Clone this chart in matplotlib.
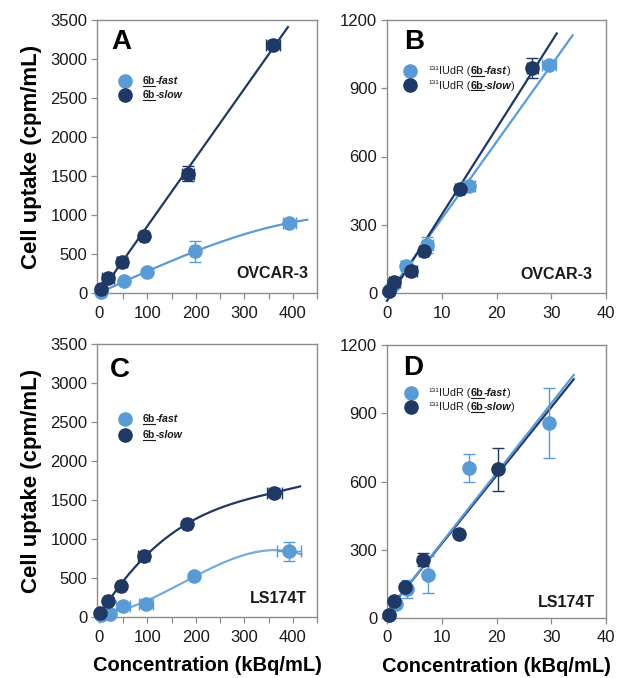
import numpy as np
import matplotlib
matplotlib.use('Agg')
import matplotlib.pyplot as plt
from matplotlib.ticker import MultipleLocator

plt.rcParams['font.family'] = ['Liberation Sans', 'DejaVu Sans']

LIGHT = '#5B9BD5'
DARK = '#1F3864'
SPINE = '#8C8C8C'

# Panel A - OVCAR-3, 6b
a_fast_x = [5, 51, 99, 198, 393]
a_fast_y = [10, 158, 265, 535, 899]
a_fast_yerr = [10, 20, 15, 135, 30]
a_fast_xerr = [2, 5, 5, 8, 14]
a_slow_x = [4, 19, 48, 93, 184, 359]
a_slow_y = [51, 188, 402, 736, 1528, 3185]
a_slow_yerr = [30, 30, 60, 40, 95, 60]
a_slow_xerr = [4, 12, 10, 8, 12, 15]

# Panel B - OVCAR-3, 131IUdR
b_fast_x = [0.3, 1.1, 3.5, 7.35, 14.9, 29.6]
b_fast_y = [10, 37, 119, 213, 470, 1003]
b_fast_yerr = [10, 15, 20, 35, 20, 15]
b_fast_xerr = [0.3, 0.6, 1.0, 1.0, 1.2, 1.2]
b_slow_x = [0.3, 1.35, 4.4, 6.7, 13.3, 26.5]
b_slow_y = [10, 47, 98, 185, 455, 990]
b_slow_yerr = [10, 15, 20, 15, 10, 45]
b_slow_xerr = [0.3, 1.0, 1.0, 0.8, 0.8, 1.0]

# Panel C - LS174T, 6b
c_fast_x = [5, 22, 50, 97, 196, 392]
c_fast_y = [30, 43, 141, 171, 522, 843]
c_fast_yerr = [15, 15, 30, 60, 20, 120]
c_fast_xerr = [3, 6, 15, 15, 5, 25]
c_slow_x = [3, 19, 46, 92, 182, 362]
c_slow_y = [51, 201, 394, 783, 1190, 1596]
c_slow_yerr = [30, 25, 30, 50, 20, 55]
c_slow_xerr = [4, 8, 8, 12, 8, 15]

# Panel D - LS174T, 131IUdR
d_fast_x = [0.37, 1.6, 3.66, 7.4, 14.9, 29.6]
d_fast_y = [15, 60, 129, 191, 660, 858]
d_fast_yerr = [8, 10, 40, 80, 62, 155]
d_slow_x = [0.37, 1.3, 3.2, 6.6, 13.2, 20.2]
d_slow_y = [15, 73, 138, 257, 370, 654]
d_slow_yerr = [8, 10, 10, 28, 10, 95]

W, H = 617, 678
fig = plt.figure(figsize=(W / 100, H / 100), dpi=100)


def make_ax(left, top, width=220, height=273):
    return fig.add_axes([left / W, (H - top - height) / H, width / W, height / H])


axA = make_ax(97, 20)
axB = make_ax(387, 20, 219)
axC = make_ax(97, 344)
axD = make_ax(387, 345, 219)


def style(ax, xlim, ylim, xmaj, xmin, ymaj):
    ax.set_xlim(*xlim)
    ax.set_ylim(*ylim)
    ax.xaxis.set_major_locator(MultipleLocator(xmaj))
    ax.xaxis.set_minor_locator(MultipleLocator(xmin))
    ax.yaxis.set_major_locator(MultipleLocator(ymaj))
    for s in ax.spines.values():
        s.set_color(SPINE)
        s.set_linewidth(1.0)
    ax.tick_params(which='both', direction='out', length=4, width=0.9,
                   color=SPINE, labelsize=12, labelcolor='#1a1a1a', pad=3)
    ax.tick_params(axis='x', pad=5)


def series(ax, x, y, yerr, xerr, color):
    ax.errorbar(x, y, yerr=yerr, xerr=xerr, fmt='o', color=color, ms=9.5,
                mec=color, elinewidth=1.0, capsize=4.5, capthick=1.0,
                zorder=4, clip_on=False)


def fit(ax, x, y, deg, x_end, color, lw=1.6):
    p = np.polyfit(x, y, deg)
    xs = np.linspace(0, x_end, 200)
    ax.plot(xs, np.polyval(p, xs), color=color, lw=lw, zorder=3, clip_on=False)


renderer = fig.canvas.get_renderer()


def rich_text(ax, x, y, pieces, size):
    cur = x
    base = ax.transAxes.transform((0, y))[1]
    for s, weight, style_, underline, scale, rise in pieces:
        yy = ax.transAxes.inverted().transform((0, base + rise * size * 100 / 72))[1]
        t = ax.text(cur, yy, s, transform=ax.transAxes, va='baseline', ha='left',
                    fontsize=size * scale, fontweight=weight, fontstyle=style_,
                    color='#1a1a1a')
        bb = t.get_window_extent(renderer)
        if underline:
            uy = base - 1.6
            (ux0, uy0), (ux1, _) = ax.transAxes.inverted().transform([(bb.x0, uy), (bb.x1, uy)])
            ax.plot([ux0, ux1], [uy0, uy0], color='#1a1a1a', lw=0.8,
                    transform=ax.transAxes, clip_on=False)
        cur = ax.transAxes.inverted().transform((bb.x1, 0))[0]


def legend(ax, mx, tx, ys, labels, size):
    for (yy, color), lab in zip(ys, labels):
        ax.plot([mx], [yy], 'o', color=color, ms=9.5, transform=ax.transAxes,
                clip_on=False)
        rich_text(ax, tx, yy - 0.012, lab, size)


def lab_6b(kind):
    return [('6b', 'bold', 'normal', True, 1.0, 0),
            ('-' + kind, 'bold', 'italic', False, 1.0, 0)]


def lab_iudr(kind):
    return [('131', 'normal', 'normal', False, 0.6, 0.42),
            ('IUdR (', 'normal', 'normal', False, 1.0, 0),
            ('6b', 'bold', 'normal', True, 1.0, 0),
            ('-' + kind, 'bold', 'italic', False, 1.0, 0),
            (')', 'normal', 'normal', False, 1.0, 0)]


# ---- Panel A
style(axA, (-4, 450), (0, 3500), 100, 50, 500)
series(axA, a_fast_x, a_fast_y, a_fast_yerr, a_fast_xerr, LIGHT)
series(axA, a_slow_x, a_slow_y, a_slow_yerr, a_slow_xerr, DARK)
fit(axA, a_fast_x, a_fast_y, 3, 430, LIGHT)
fit(axA, a_slow_x, a_slow_y, 1, 390, DARK)
legend(axA, 0.127, 0.209, [(0.777, LIGHT), (0.725, DARK)],
       [lab_6b('fast'), lab_6b('slow')], 7.6)

# ---- Panel B
style(axB, (0, 40), (0, 1200), 10, 10, 300)
series(axB, b_fast_x, b_fast_y, b_fast_yerr, b_fast_xerr, LIGHT)
series(axB, b_slow_x, b_slow_y, b_slow_yerr, b_slow_xerr, DARK)
fit(axB, b_fast_x, b_fast_y, 1, 33.9, LIGHT)
fit(axB, b_slow_x, b_slow_y, 1, 31.0, DARK)
legend(axB, 0.105, 0.19, [(0.8125, LIGHT), (0.761, DARK)],
       [lab_iudr('fast'), lab_iudr('slow')], 7.8)

# ---- Panel C
style(axC, (-4, 450), (0, 3500), 100, 50, 500)
series(axC, c_fast_x, c_fast_y, c_fast_yerr, c_fast_xerr, LIGHT)
series(axC, c_slow_x, c_slow_y, c_slow_yerr, c_slow_xerr, DARK)
fit(axC, c_fast_x, c_fast_y, 3, 418, '#74ABE0')
fit(axC, c_slow_x, c_slow_y, 3, 415, DARK)
legend(axC, 0.127, 0.209, [(0.725, LIGHT), (0.667, DARK)],
       [lab_6b('fast'), lab_6b('slow')], 7.6)

# ---- Panel D
style(axD, (0, 40), (0, 1200), 10, 10, 300)
series(axD, d_fast_x, d_fast_y, d_fast_yerr, None, LIGHT)
series(axD, d_slow_x, d_slow_y, d_slow_yerr, None, DARK)
fit(axD, d_slow_x, d_slow_y, 1, 34.1, DARK)
fit(axD, d_fast_x, d_fast_y, 1, 34.1, LIGHT)
legend(axD, 0.11, 0.19, [(0.824, LIGHT), (0.773, DARK)],
       [lab_iudr('fast'), lab_iudr('slow')], 7.8)

# panel letters and cell line names
for ax, letter, lx, ly, cell, cx, cy in [
        (axA, 'A', 0.065, 0.895, 'OVCAR-3', 0.96, 0.055),
        (axB, 'B', 0.078, 0.895, 'OVCAR-3', 0.94, 0.05),
        (axC, 'C', 0.06, 0.88, 'LS174T', 0.955, 0.05),
        (axD, 'D', 0.075, 0.89, 'LS174T', 0.95, 0.04)]:
    ax.text(lx, ly, letter, transform=ax.transAxes, fontsize=20,
            fontweight='bold', va='baseline', ha='left', color='black')
    ax.text(cx, cy, cell, transform=ax.transAxes, fontsize=11.5,
            fontweight='bold', va='baseline', ha='right', color='#1a1a1a')

# axis titles
for ax in (axA, axC):
    ax.set_ylabel('Cell uptake (cpm/mL)', fontsize=16, fontweight='bold',
                  labelpad=6)
for ax in (axC, axD):
    ax.set_xlabel('Concentration (kBq/mL)', fontsize=14.5, fontweight='bold',
                  labelpad=8)

fig.savefig('out.png', dpi=100)
